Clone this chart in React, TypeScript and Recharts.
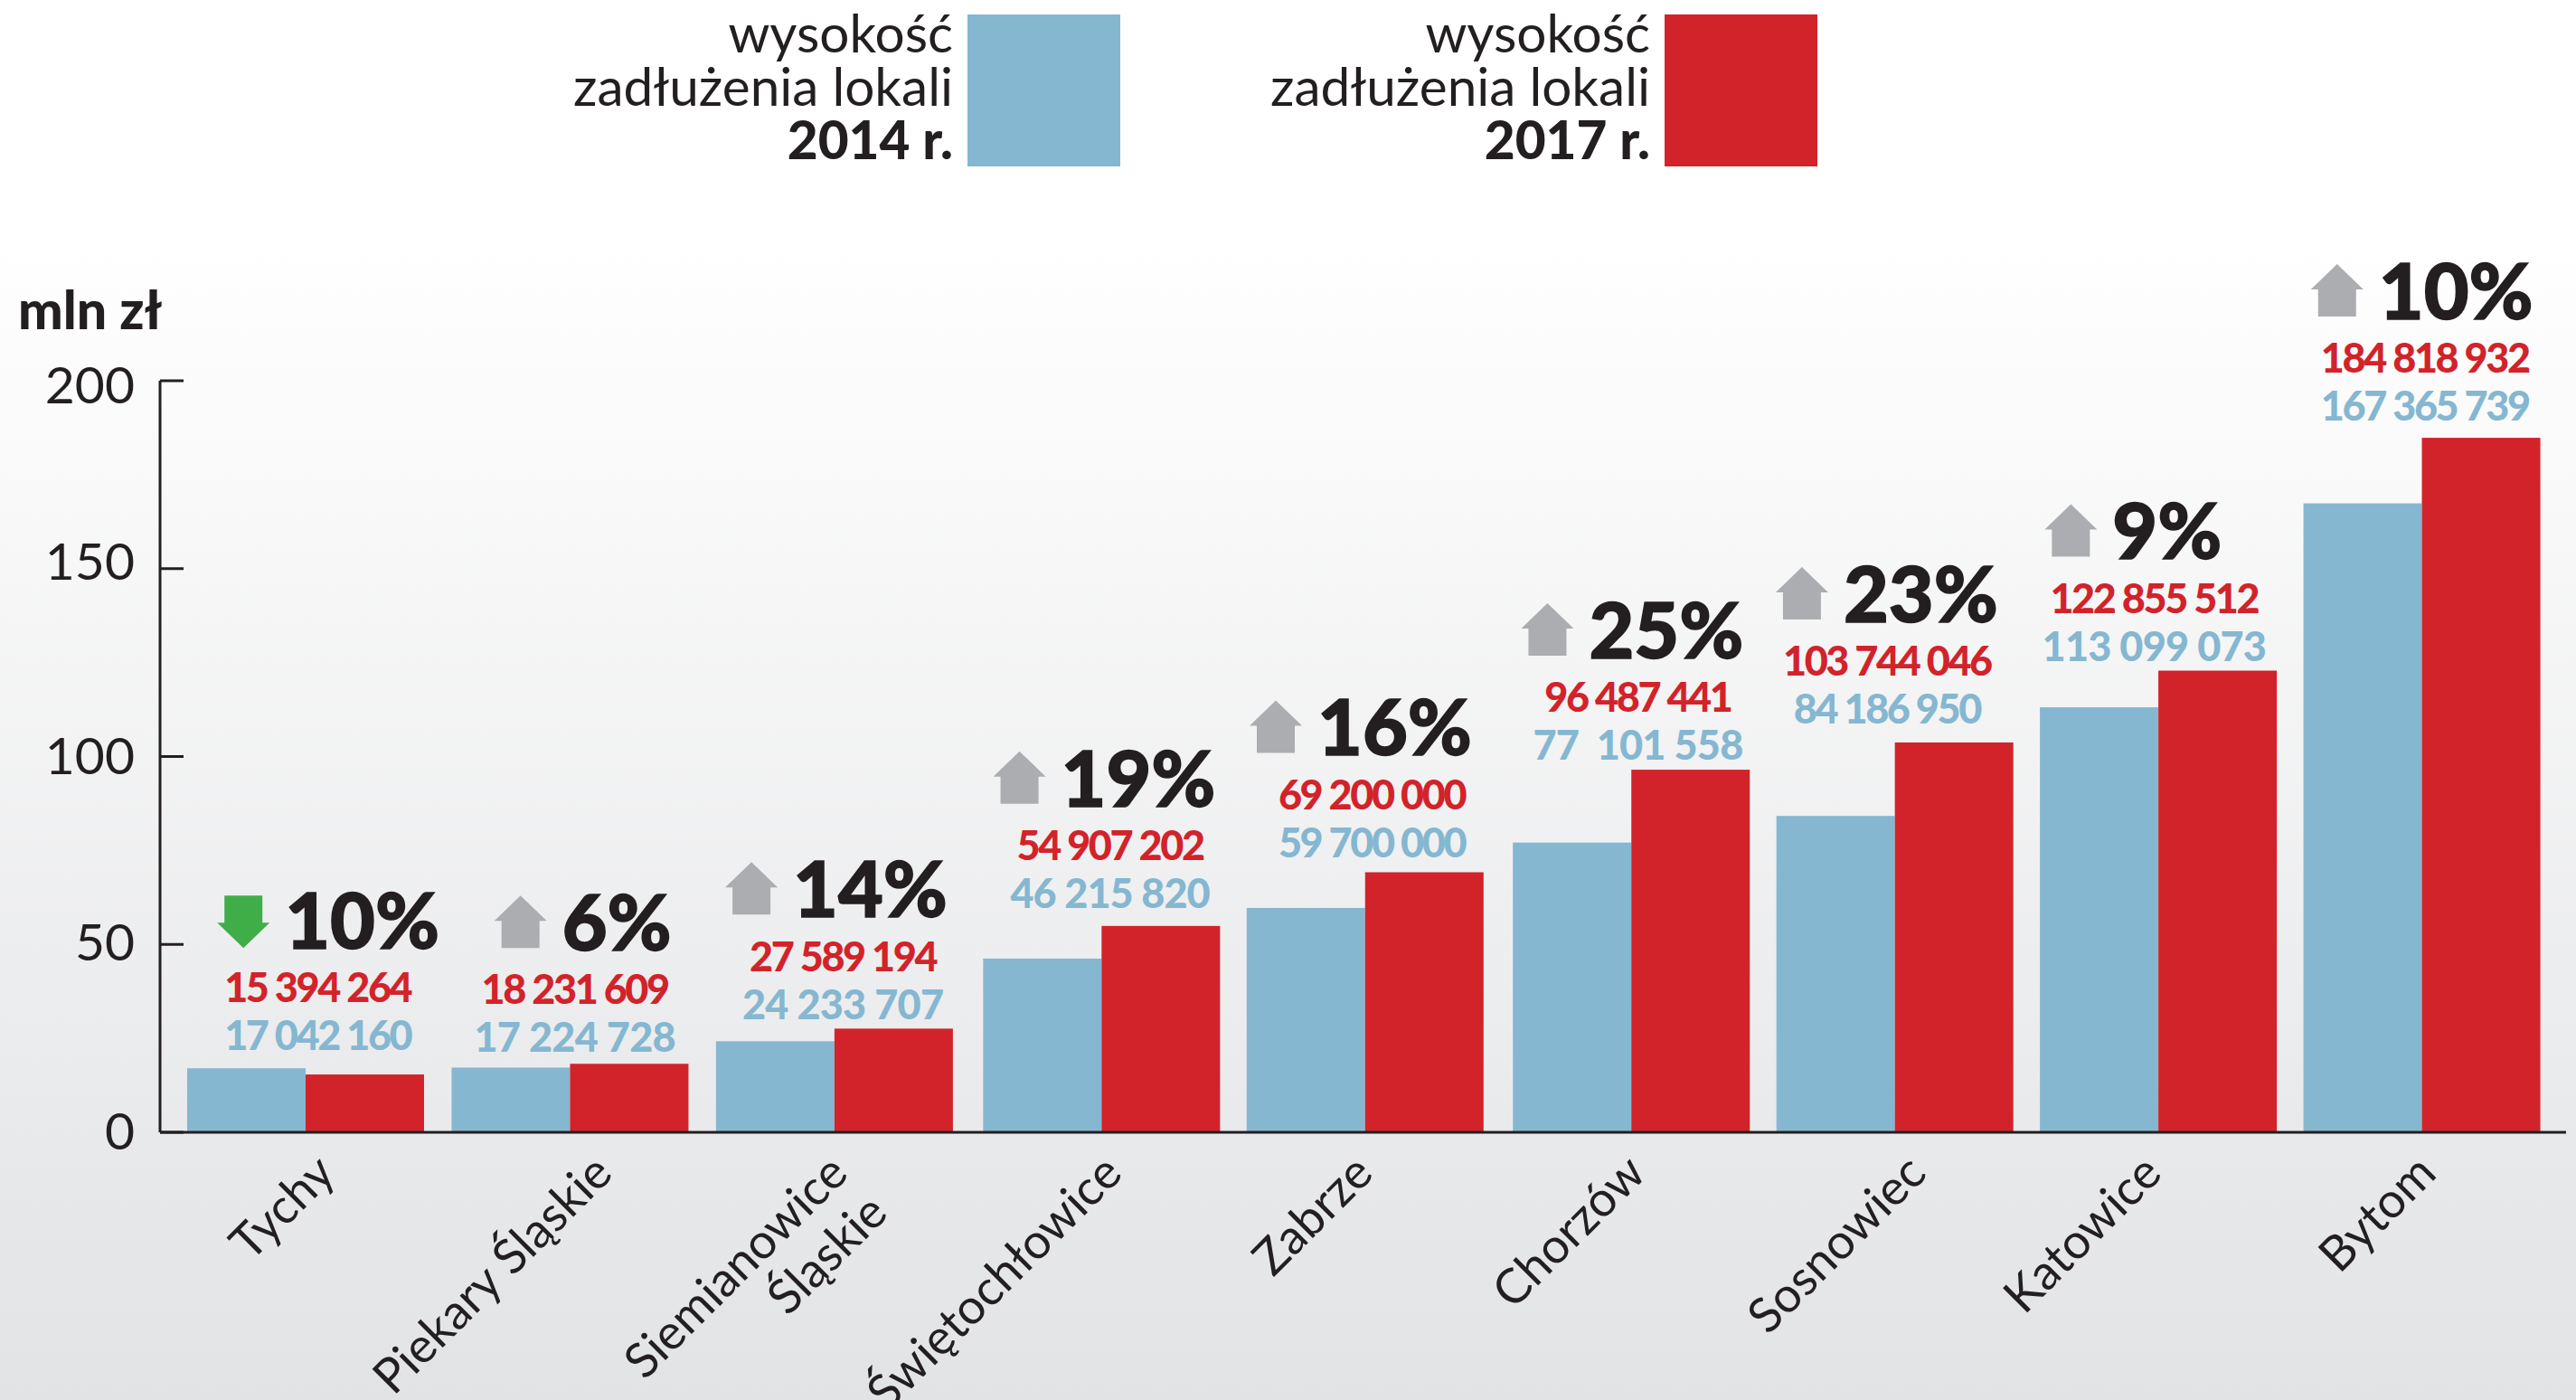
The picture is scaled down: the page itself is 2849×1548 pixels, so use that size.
import React from "react";
import { Bar, ComposedChart, Line, XAxis, YAxis } from "recharts";

const cities = [
  "Tychy",
  "Piekary Śląskie",
  "Siemianowice\nŚląskie",
  "Świętochłowice",
  "Zabrze",
  "Chorzów",
  "Sosnowiec",
  "Katowice",
  "Bytom",
];
const debt2014 = [17.04, 17.22, 24.23, 46.22, 59.7, 77.1, 84.19, 113.1, 167.37];
const debt2017 = [15.39, 18.23, 27.59, 54.91, 69.2, 96.49, 103.74, 122.86, 184.82];
const label2014 = [
  "17 042 160",
  "17 224 728",
  "24 233 707",
  "46 215 820",
  "59 700 000",
  "77  101 558",
  "84 186 950",
  "113 099 073",
  "167 365 739",
];
const label2017 = [
  "15 394 264",
  "18 231 609",
  "27 589 194",
  "54 907 202",
  "69 200 000",
  "96 487 441",
  "103 744 046",
  "122 855 512",
  "184 818 932",
];
const change = ["10%", "6%", "14%", "19%", "16%", "25%", "23%", "9%", "10%"];
const direction = ["down", "up", "up", "up", "up", "up", "up", "up", "up"];
const yTicks = [0, 50, 100, 150, 200];

// hand placement of the annotations, the infographic is not regular
const percentNudge = [-23, -9, -46, -42, -51, -43, -54, -49, -47];
const numberNudge = [13, 5, 9, 12, 9, 11, -6, -3, 4];
const liftNudge = [36, 29, 27, 36, 33, 27, 37, 27, 35];
const tickNudge = [35, 49, 17, 28, 13, 22, 40, 8, 19];
const barNudge = [0, 0, 0, 3, 2, 4, 3, 2, 1];
const blueSpacing = [-2.4, -0.8, -0.8, -1, -2.4, -0.8, -2.4, -0.8, -2.4];
const yLabelNudge: Record<number, number> = { 0: -2, 50: -3, 100: -1, 150: -8, 200: 4 };

const BLUE = "#85b7d1";
const RED = "#d2232a";
const INK = "#231f20";
const FONT = "Lato, sans-serif";

const data = cities.map((city, i) => ({
  city,
  d2014: debt2014[i],
  d2017: debt2017[i],
  peak: Math.max(debt2014[i], debt2017[i]),
}));

const GroupLabel = (props: any) => {
  const { x, y, index } = props;
  const blueY = y - liftNudge[index];
  const redY = blueY - 53;
  const pctY = redY - 74;
  const pctX = x + percentNudge[index];
  const ax = pctX - 46;
  const up = direction[index] === "up";
  const s = up ? 1 : -1;
  const arrow = `M${ax} ${pctY - s * 30} L${ax + 29} ${pctY - s * 2} L${ax + 21} ${pctY - s * 2} L${ax + 21} ${pctY + s * 28} L${ax - 21} ${pctY + s * 28} L${ax - 21} ${pctY - s * 2} L${ax - 29} ${pctY - s * 2} Z`;
  const number = {
    x: x + numberNudge[index],
    dy: "0.36em",
    textAnchor: "middle" as const,
    fontSize: 45,
    fontWeight: 900,
    style: { whiteSpace: "pre" as const },
  };
  return (
    <g fontFamily={FONT}>
      <path d={arrow} fill={up ? "#abadb0" : "#3fae49"} />
      <text
        x={pctX}
        y={pctY}
        dy="0.36em"
        fontSize={86}
        fontWeight={900}
        fill={INK}
        stroke={INK}
        strokeWidth={1.5}
      >
        {change[index]}
      </text>
      <text {...number} y={redY} letterSpacing={-2.4} fill={RED}>
        {label2017[index]}
      </text>
      <text {...number} y={blueY} letterSpacing={blueSpacing[index]} fill={BLUE}>
        {label2014[index]}
      </text>
    </g>
  );
};

const CityTick = (props: any) => {
  const { x, y, payload, index } = props;
  const lines = String(payload.value).split("\n");
  return (
    <g transform={`translate(${x + tickNudge[index]},${y + 48}) rotate(-45)`}>
      {lines.map((line, i) => (
        <text
          key={line}
          x={0}
          y={i * 62}
          textAnchor="end"
          fontFamily={FONT}
          fontSize={53.5}
          fill={INK}
        >
          {line}
        </text>
      ))}
    </g>
  );
};

const ValueTick = (props: any) => {
  const { x, y, payload } = props;
  return (
    <g>
      <line x1={x} x2={x + 26} y1={y} y2={y} stroke={INK} strokeWidth={3} />
      <text
        x={x - 28}
        y={y + yLabelNudge[payload.value]}
        dy="0.36em"
        textAnchor="end"
        fontFamily={FONT}
        fontWeight={400}
        fontSize={57}
        fill={INK}
      >
        {payload.value}
      </text>
    </g>
  );
};

const ShiftedBar = (props: any) => {
  const { x, y, width, height, fill, index } = props;
  return <rect x={x + barNudge[index]} y={y} width={width} height={height} fill={fill} />;
};

const LegendItem = ({ year, color, left }: { year: string; color: string; left: number }) => (
  <div style={{ position: "absolute", left, top: 16, height: 168 }}>
    <div
      style={{
        position: "absolute",
        left: 0,
        top: 0,
        width: 169,
        height: 168,
        background: color,
      }}
    />
    <div
      style={{
        position: "absolute",
        right: 16,
        top: -10,
        textAlign: "right",
        whiteSpace: "nowrap",
        fontFamily: FONT,
        fontSize: 58.5,
        lineHeight: "59px",
        color: INK,
      }}
    >
      wysokość
      <br />
      zadłużenia lokali
      <br />
      <b style={{ fontWeight: 900 }}>{year} r.</b>
    </div>
  </div>
);

export default function App() {
  return (
    <div
      style={{
        position: "absolute",
        left: 0,
        top: 0,
        width: 2849,
        height: 1548,
        overflow: "hidden",
        background: "linear-gradient(#ffffff 0px, #ffffff 260px, #e2e3e5 1548px)",
      }}
    >
      <LegendItem year="2014" color={BLUE} left={1070} />
      <LegendItem year="2017" color={RED} left={1841} />
      <ComposedChart
        width={2849}
        height={1548}
        data={data}
        margin={{ top: 421, right: 11, bottom: 0, left: 0 }}
        barGap={0}
        barSize={131}
        style={{ position: "absolute", left: 0, top: 0 }}
      >
        <XAxis
          dataKey="city"
          height={296}
          interval={0}
          padding={{ left: 15, right: 14 }}
          tick={<CityTick />}
          tickLine={false}
          tickSize={0}
          tickMargin={0}
          axisLine={{ stroke: INK, strokeWidth: 3 }}
        />
        <YAxis
          width={177}
          domain={[0, 200]}
          ticks={yTicks}
          tick={<ValueTick />}
          tickLine={false}
          tickSize={0}
          tickMargin={0}
          axisLine={{ stroke: INK, strokeWidth: 3 }}
        />
        <Bar dataKey="d2014" fill={BLUE} isAnimationActive={false} shape={<ShiftedBar />} />
        <Bar dataKey="d2017" fill={RED} isAnimationActive={false} shape={<ShiftedBar />} />
        <Line
          dataKey="peak"
          stroke="none"
          dot={false}
          legendType="none"
          isAnimationActive={false}
          label={<GroupLabel />}
        />
        <text x={20} y={364} fontFamily={FONT} fontSize={59} fontWeight={900} fill={INK}>
          mln zł
        </text>
      </ComposedChart>
    </div>
  );
}
